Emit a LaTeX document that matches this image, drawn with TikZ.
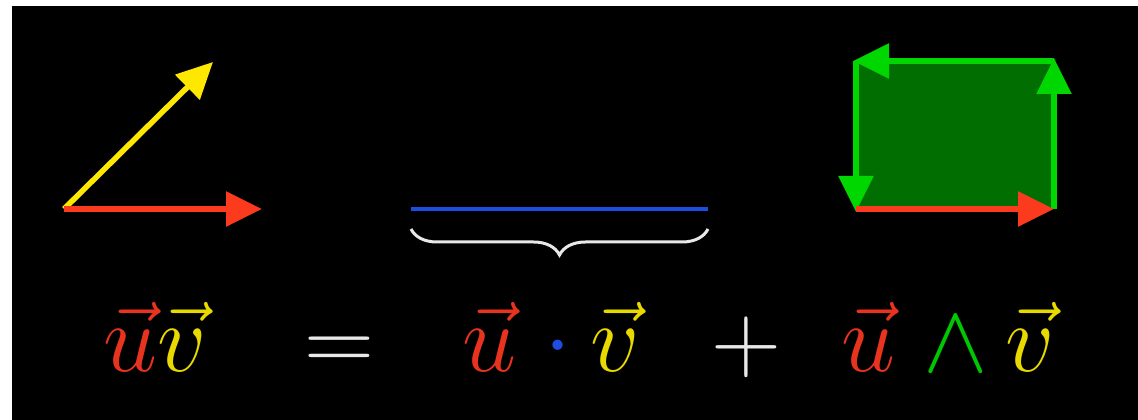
\documentclass[tikz,border=0pt]{standalone}
\RequirePackage{fix-cm}
\usetikzlibrary{arrows.meta,decorations.pathreplacing}
\definecolor{vred}{RGB}{252,58,30}
\definecolor{tred}{RGB}{232,52,30}
\definecolor{vyel}{RGB}{255,232,0}
\definecolor{tyel}{RGB}{232,218,0}
\definecolor{vblue}{RGB}{30,78,225}
\definecolor{vgreen}{RGB}{0,215,0}
\definecolor{tgreen}{RGB}{0,200,0}
\definecolor{dgreen}{RGB}{0,110,0}
\definecolor{tgray}{RGB}{232,232,232}
\tikzset{
  vecarrow/.style={line width=5.5pt,-{Triangle[length=36pt,width=34pt]}},
  eqtext/.style={inner sep=0pt,outer sep=0pt,anchor=base west,font=\fontsize{97}{105}\selectfont},
  optext/.style={inner sep=0pt,outer sep=0pt,font=\fontsize{97}{105}\selectfont},
}
\begin{document}
\begin{tikzpicture}[x=1pt,y=1pt]
\useasboundingbox (0,0) rectangle (1138,420);
\fill[white] (0,0) rectangle (1138,420);
\fill[black] (12,0) rectangle (1138,414);
% left: two vectors
\coordinate (O) at (64,211);
\coordinate (U) at (262,211);
\coordinate (V) at (213,358);
\draw[vecarrow,vyel] (O) -- (V);
\draw[vecarrow,vred] (O) -- (U);
% middle: dot product line and brace
\coordinate (B1) at (411,211);
\coordinate (B2) at (708,211);
\coordinate (C1) at (411,191);
\coordinate (C2) at (708,191);
\draw[vblue,line width=4pt] (B1) -- (B2);
\draw[tgray,line width=3pt,decorate,decoration={brace,amplitude=26pt}] (C2) -- (C1);
% right: wedge parallelogram
\coordinate (P1) at (856,211);
\coordinate (P2) at (1054,211);
\coordinate (P3) at (1054,359);
\coordinate (P4) at (856,359);
\fill[dgreen] (P1) rectangle (P3);
\draw[vecarrow,vgreen] (P2) -- (1054,362);
\draw[vecarrow,vgreen] (P3) -- (853,359);
\draw[vecarrow,vgreen] (P4) -- (856,208);
\draw[vecarrow,vred] (P1) -- (P2);
% equation
\node[eqtext] (uv) at (103,48) {$\color{tred}\vec{u}\color{tyel}\vec{v}$};
\node[eqtext,text=tgray] (eq) at (304,48) {$=$};
\node[eqtext] (u1) at (462,48) {$\color{tred}\vec{u}$};
\node[optext,text=vblue] (dot) at (558,72) {$\cdot$};
\node[eqtext] (v1) at (590,48) {$\color{tyel}\vec{v}$};
\node[eqtext,text=tgray] (plus) at (711,48) {$+$};
\node[eqtext] (u2) at (841,48) {$\color{tred}\vec{u}$};
\node[optext,text=tgreen,anchor=base] (wedge) at (956,48) {$\wedge$};
\node[eqtext] (v2) at (1005,48) {$\color{tyel}\vec{v}$};
\end{tikzpicture}
\end{document}
